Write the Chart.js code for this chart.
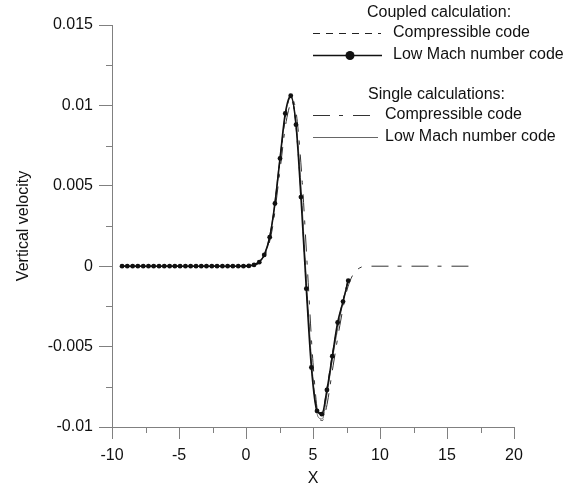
<!DOCTYPE html>
<html>
<head>
<meta charset="utf-8">
<script src="https://cdn.jsdelivr.net/npm/chart.js@4/dist/chart.umd.min.js"></script>
<style>
  html, body { margin: 0; padding: 0; background: #fff; }
</style>
</head>
<body>
<canvas id="myChart" width="583" height="488"></canvas>
<script>
var xTicks = [-10, -5, 0, 5, 10, 15, 20];
var xMinorTicks = [-7.5, -2.5, 2.5, 7.5, 12.5, 17.5];
var yTicks = [-0.01, -0.005, 0, 0.005, 0.01, 0.015];
var yTickLabels = ["-0.01", "-0.005", "0", "0.005", "0.01", "0.015"];
var yMinorTicks = [-0.0075, -0.0025, 0.0025, 0.0075, 0.0125];

// coupled calculation, low Mach number code (the dotted curve)
var coupledLowMachX = [
  -9.25, -8.86, -8.46, -8.07, -7.67, -7.28, -6.89, -6.49, -6.10, -5.70,
  -5.31, -4.92, -4.52, -4.13, -3.73, -3.34, -2.95, -2.55, -2.16, -1.76,
  -1.37, -0.98, -0.58, -0.19, 0.21, 0.60, 0.99, 1.36, 1.77, 2.16,
  2.54, 2.93, 3.34, 3.73, 4.10, 4.50, 4.88, 5.30, 5.66, 6.04,
  6.44, 6.84, 7.24, 7.63
];
var coupledLowMachY = [
  0, 0, 0, 0, 0, 0, 0, 0, 0, 0,
  0, 0, 0, 0, 0, 0, 0, 0, 0, 0,
  0, 0, 0, 0, 0.00002, 0.00008, 0.00025, 0.0007, 0.0018, 0.0039,
  0.0067, 0.0095, 0.0106, 0.0088, 0.0043, -0.0014, -0.0063, -0.0090, -0.0092, -0.0077,
  -0.0056, -0.0035, -0.0022, -0.0009
];

// coupled calculation, compressible code
var coupledCompX = [-9.2, -8, -6, -4, -2, 0, 0.5, 1, 1.5, 2, 2.5, 3, 3.3, 3.6, 4, 4.5, 5, 5.4, 5.7, 6, 6.5, 7, 7.6];
var coupledCompY = [0, 0, 0, 0, 0, 0.00002, 0.0001, 0.0003, 0.0009, 0.0029, 0.0063, 0.0096, 0.0105, 0.0097, 0.0058, -0.0012, -0.0072, -0.0091, -0.0091, -0.0078, -0.0052, -0.0030, -0.0009];

// single calculations, compressible code
var singleCompX = [-9.2, -8, -6, -4, -2, 0, 0.5, 1, 1.5, 2, 2.5, 3, 3.5, 3.8, 4.2, 4.6, 5, 5.4, 5.7, 6, 6.5, 7, 7.5, 8, 8.5, 9, 10, 12, 14, 16.6];
var singleCompY = [0, 0, 0, 0, 0, 0.00002, 0.00005, 0.0002, 0.0008, 0.0025, 0.0057, 0.0090, 0.0103, 0.0092, 0.0052, -0.0004, -0.0060, -0.0093, -0.0096, -0.0088, -0.0062, -0.0037, -0.0016, -0.0005, -0.0001, 0, 0, 0, 0, 0];

// single calculations, low Mach number code
var singleLowMachX = [-9.2, -8, -6, -4, -2, 0, 0.5, 1, 1.5, 2, 2.5, 3, 3.35, 3.7, 4, 4.5, 5, 5.4, 5.7, 6, 6.5, 7, 7.6];
var singleLowMachY = [0, 0, 0, 0, 0, 0.00002, 0.0001, 0.0003, 0.001, 0.003, 0.0065, 0.0097, 0.0105, 0.0091, 0.0063, -0.0008, -0.0070, -0.0094, -0.0095, -0.0082, -0.0055, -0.0032, -0.0009];

var axisColor = "#808080";
var textColor = "#111";
var fontFamily = "'Liberation Sans', Arial, Helvetica, sans-serif";

function toPoints(xs, ys) {
  return xs.map(function (x, i) { return { x: x, y: ys[i] }; });
}

var minorTicks = {
  id: "minorTicks",
  afterDraw: function (chart) {
    var ctx = chart.ctx;
    var area = chart.chartArea;
    var xs = chart.scales.x;
    var ys = chart.scales.y;
    ctx.save();
    ctx.strokeStyle = axisColor;
    ctx.lineWidth = 1;
    ctx.beginPath();
    xMinorTicks.forEach(function (v) {
      var px = Math.round(xs.getPixelForValue(v)) + 0.5;
      ctx.moveTo(px, area.bottom);
      ctx.lineTo(px, area.bottom + 6);
    });
    yMinorTicks.forEach(function (v) {
      var py = Math.round(ys.getPixelForValue(v)) + 0.5;
      ctx.moveTo(area.left, py);
      ctx.lineTo(area.left - 6, py);
    });
    ctx.stroke();
    ctx.restore();
  }
};

var legendBox = {
  id: "legendBox",
  afterDraw: function (chart) {
    var ctx = chart.ctx;
    ctx.save();
    ctx.font = "16px " + fontFamily;
    ctx.fillStyle = textColor;
    ctx.textBaseline = "middle";
    ctx.textAlign = "left";

    ctx.fillText("Coupled calculation:", 367, 13);
    ctx.fillText("Compressible code", 393, 33);
    ctx.fillText("Low Mach number code", 393, 55);
    ctx.fillText("Single calculations:", 368, 95);
    ctx.fillText("Compressible code", 385, 115);
    ctx.fillText("Low Mach number code", 385, 137);

    ctx.lineWidth = 1;
    ctx.strokeStyle = "#222";
    ctx.setLineDash([7, 6]);
    ctx.beginPath(); ctx.moveTo(313, 33.5); ctx.lineTo(381, 33.5); ctx.stroke();

    ctx.setLineDash([]);
    ctx.lineWidth = 1.5;
    ctx.strokeStyle = "#111";
    ctx.beginPath(); ctx.moveTo(313, 55.5); ctx.lineTo(382, 55.5); ctx.stroke();
    ctx.fillStyle = "#111";
    ctx.beginPath(); ctx.arc(350, 55.5, 4.5, 0, Math.PI * 2); ctx.fill();

    ctx.lineWidth = 1;
    ctx.strokeStyle = "#333";
    ctx.setLineDash([17, 9, 4, 10]);
    ctx.beginPath(); ctx.moveTo(313, 115.5); ctx.lineTo(372, 115.5); ctx.stroke();

    ctx.setLineDash([]);
    ctx.strokeStyle = "#666";
    ctx.beginPath(); ctx.moveTo(313, 137.5); ctx.lineTo(378, 137.5); ctx.stroke();
    ctx.restore();
  }
};

window.onload = function () {
  var ctx = document.getElementById("myChart").getContext("2d");
  var myChart = new Chart(ctx, {
    type: "scatter",
    data: {
      datasets: [
        {
          label: "Coupled - Low Mach number code",
          data: toPoints(coupledLowMachX, coupledLowMachY),
          showLine: true,
          borderColor: "#111",
          backgroundColor: "#111",
          borderWidth: 1.6,
          pointRadius: 2.4,
          pointBorderWidth: 0,
          cubicInterpolationMode: "monotone",
        },
        {
          label: "Coupled - Compressible code",
          data: toPoints(coupledCompX, coupledCompY),
          showLine: true,
          borderColor: "#222",
          borderWidth: 1,
          borderDash: [7, 6],
          pointRadius: 0,
          cubicInterpolationMode: "monotone",
        },
        {
          label: "Single - Compressible code",
          data: toPoints(singleCompX, singleCompY),
          showLine: true,
          borderColor: "#333",
          borderWidth: 1,
          borderDash: [17, 9, 4, 10],
          pointRadius: 0,
          cubicInterpolationMode: "monotone",
        },
        {
          label: "Single - Low Mach number code",
          data: toPoints(singleLowMachX, singleLowMachY),
          showLine: true,
          borderColor: "#666",
          borderWidth: 1,
          pointRadius: 0,
          cubicInterpolationMode: "monotone",
        },
      ],
    },
    options: {
      responsive: false,
      animation: false,
      devicePixelRatio: 1,
      layout: { padding: { top: 25, right: 69, left: 0, bottom: 0 } },
      plugins: {
        legend: { display: false },
        tooltip: { enabled: false },
      },
      scales: {
        x: {
          type: "linear",
          min: -10,
          max: 20,
          afterBuildTicks: function (scale) {
            scale.ticks = xTicks.map(function (v) { return { value: v }; });
          },
          afterFit: function (scale) { scale.height = 61; },
          ticks: {
            color: textColor,
            font: { family: fontFamily, size: 16 },
            padding: 7,
            maxRotation: 0,
          },
          grid: {
            display: true,
            drawOnChartArea: false,
            drawTicks: true,
            tickLength: 12,
            color: axisColor,
          },
          border: { display: true, color: axisColor, width: 1 },
          title: {
            display: true,
            text: "X",
            color: textColor,
            font: { family: fontFamily, size: 16 },
            padding: { top: 0, bottom: 0 },
          },
        },
        y: {
          type: "linear",
          min: -0.01,
          max: 0.015,
          afterBuildTicks: function (scale) {
            scale.ticks = yTicks.map(function (v) { return { value: v }; });
          },
          afterFit: function (scale) { scale.width = 112; },
          ticks: {
            color: textColor,
            font: { family: fontFamily, size: 16 },
            padding: 6,
            callback: function (value) {
              var i = yTicks.findIndex(function (t) { return Math.abs(t - value) < 1e-9; });
              return i >= 0 ? yTickLabels[i] : "";
            },
          },
          grid: {
            display: true,
            drawOnChartArea: false,
            drawTicks: true,
            tickLength: 13,
            color: axisColor,
          },
          border: { display: true, color: axisColor, width: 1 },
          title: {
            display: true,
            text: "Vertical velocity",
            color: textColor,
            font: { family: fontFamily, size: 16 },
            padding: { top: 14, bottom: 0 },
          },
        },
      },
    },
    plugins: [minorTicks, legendBox],
  });
};
</script>
</body>
</html>
